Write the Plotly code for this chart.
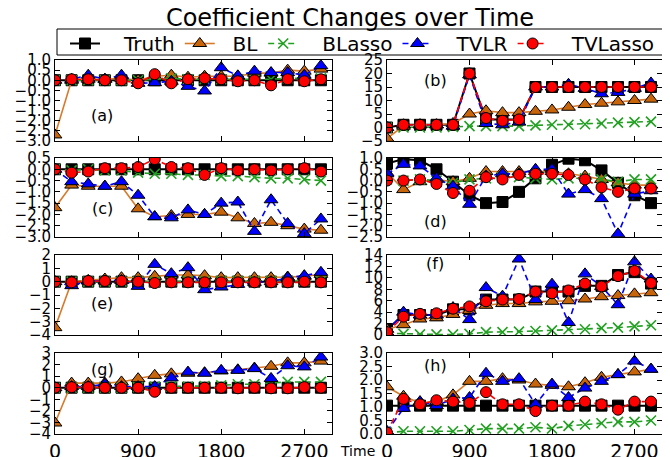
import plotly.graph_objects as go
from plotly.subplots import make_subplots

time = [0, 180, 360, 540, 720, 900, 1080, 1260, 1440, 1620, 1800, 1980, 2160, 2340, 2520, 2700, 2880]
x_ticks = [0, 900, 1800, 2700]

# (a)
truth_a = [0, 0, 0, 0, 0, 0, 0, 0, 0, 0, 0, 0, 0, 0, 0, 0, 0]
bl_a = [-2.7, 0.0, 0.05, 0.05, 0.1, 0.0, 0.2, 0.25, 0.15, 0.2, 0.2, 0.2, 0.35, 0.35, 0.5, 0.45, 0.55]
blasso_a = [0, 0, 0, 0, 0, 0, 0.05, 0.1, 0.05, 0.05, 0.05, 0.05, 0.05, 0.05, 0.1, 0.1, 0.1]
tvlr_a = [0, 0.05, 0.25, 0.05, 0.25, -0.15, -0.12, -0.05, -0.3, -0.53, 0.62, 0.22, 0.45, 0.38, 0.38, 0.25, 0.72]
tvlasso_a = [0, 0.05, 0.05, 0.0, 0.0, -0.15, 0.3, -0.15, 0.05, 0.1, 0.05, -0.05, 0.0, -0.25, 0.05, -0.05, 0.05]
# (b)
truth_b = [0, 1, 1, 1, 1, 20, 3, 3, 3, 15, 15, 15, 15, 15, 15, 15, 15]
bl_b = [-4, 0.5, 1, 1, 1.5, 5, 6.2, 5.5, 5.5, 6, 6.5, 7.5, 8.5, 9, 9.5, 10, 10.5]
blasso_b = [0, 0, 0, 0, 0.2, 0.5, 0.5, 0.5, 0.5, 0.8, 1, 1, 1.2, 1.5, 1.8, 2, 2.2]
tvlr_b = [0, 1, 1, 1, 0.5, 19.5, 1.5, 1, 2, 15, 15, 16, 14.5, 12.5, 13, 14.5, 16.5]
tvlasso_b = [0, 1, 1, 1, 1, 20, 3.5, 2.5, 3, 15, 15, 15, 15, 15, 15, 15, 15]
# (c)
truth_c = [0, 0, 0, 0, 0, 0, 0, 0, 0, 0, 0, 0, 0, 0, 0, 0, 0]
bl_c = [-1.7, -0.7, -0.75, -0.75, -0.75, -1.75, -2.1, -2.05, -2.0, -2.0, -1.9, -2.15, -2.4, -2.35, -2.5, -2.65, -2.7]
blasso_c = [0, -0.05, 0, -0.05, -0.05, -0.15, -0.2, -0.2, -0.25, -0.25, -0.3, -0.3, -0.35, -0.4, -0.4, -0.45, -0.5]
tvlr_c = [0, -0.55, -0.65, -0.75, -0.55, -1.15, -2.1, -2.15, -1.8, -2.0, -1.5, -1.45, -2.75, -1.35, -2.4, -2.85, -2.2]
tvlasso_c = [0, -0.15, -0.1, 0.05, 0.05, 0.1, 0.45, 0.1, 0.05, -0.25, 0.05, -0.05, 0.0, -0.05, 0.0, 0.05, -0.1]
# (d)
truth_d = [0.75, 0.95, 0.9, 0.5, -0.05, -0.65, -1.0, -0.95, -0.5, 0.1, 0.7, 0.97, 0.9, 0.45, -0.1, -0.65, -1.0]
bl_d = [0.35, -0.4, -0.05, 0.05, -0.05, 0.1, 0.4, 0.4, 0.4, 0.4, 0.4, 0.3, 0.2, 0.05, -0.1, -0.2, -0.2]
blasso_d = [0.05, 0.0, 0.05, 0.0, -0.1, 0.05, 0.1, 0.15, 0.15, 0.1, 0.05, 0.1, 0.1, 0.05, -0.05, 0.05, 0.05]
tvlr_d = [0.3, 0.72, 0.65, 0.1, -0.25, -1.05, 0.2, 0.3, 0.3, 0.5, 0.5, -0.6, -0.4, -0.8, -2.36, -0.6, -0.45]
tvlasso_d = [0.0, 0.0, 0.05, -0.15, -0.55, -0.45, 0.15, 0.05, 0.25, 0.3, 0.3, 0.25, 0.05, -0.3, -0.5, -0.35, -0.35]
# (e)
truth_e = [0, 0, 0, 0, 0, 0, 0, 0, 0, 0, 0, 0, 0, 0, 0, 0, 0]
bl_e = [-3.45, 0.0, 0.1, 0.2, 0.3, 0.3, 0.4, 0.5, 0.5, 0.45, 0.3, 0.3, 0.3, 0.3, 0.35, 0.4, 0.55]
blasso_e = [0, 0, 0, 0, 0, 0, 0, 0.05, 0.05, 0.05, 0.05, 0.05, 0.05, 0.05, 0.05, 0.05, 0.05]
tvlr_e = [0, -0.3, 0.05, 0.05, 0.1, -0.35, 1.3, 0.6, 1.05, -0.6, -0.4, -0.2, -0.05, 0.0, 0.3, 0.45, 0.7]
tvlasso_e = [0, -0.05, 0.05, 0.05, 0.05, 0, -0.1, -0.05, -0.05, -0.05, -0.05, -0.05, -0.05, -0.05, -0.05, 0, -0.05]
# (f)
truth_f = [1, 3.5, 3.5, 3.5, 4.5, 4.5, 6.2, 6.2, 6.2, 7.6, 7.6, 7.6, 8.6, 8.6, 10.5, 11, 9]
bl_f = [1, 1.8, 2.8, 3, 3.6, 4.3, 5.2, 5.5, 5.5, 5.8, 5.9, 6.0, 6.3, 6.7, 6.9, 7.2, 7.4]
blasso_f = [0.3, 0.2, 0.1, 0.1, 0.1, 0.2, 0.5, 0.5, 0.6, 0.7, 0.8, 1.0, 1.0, 1.2, 1.3, 1.5, 1.7]
tvlr_f = [0.5, 4.0, 3.5, 3.5, 4.8, 2.7, 8.3, 6.8, 13.3, 6.2, 8.9, 2.2, 10.7, 8.5, 5.3, 12.8, 9.8]
tvlasso_f = [0.5, 3.2, 3.7, 3.8, 4.6, 5.0, 5.9, 6.2, 6.3, 7.6, 7.3, 7.8, 9.0, 8.5, 10.3, 11.2, 9.1]
# (g)
truth_g = [0, 0, 0, 0, 0, 0, 0, 0, 0, 0, 0, 0, 0, 0, 0, 0, 0]
bl_g = [-3.05, 0.4, 0.4, 0.4, 0.5, 0.78, 1.07, 1.2, 1.25, 1.3, 1.45, 1.55, 1.7, 1.85, 2.15, 2.15, 2.3]
blasso_g = [0, 0, 0, 0, 0, 0.05, 0.1, 0.1, 0.1, 0.15, 0.2, 0.3, 0.3, 0.4, 0.5, 0.5, 0.5]
tvlr_g = [0, 0.1, 0.1, 0.3, 0.1, 0.1, 0.1, 0.85, 1.35, 1.25, 1.5, 1.5, 1.65, 0.8, 1.9, 1.8, 2.65]
tvlasso_g = [0, 0.05, 0.05, 0, 0, 0, -0.35, 0, 0, 0, 0, -0.05, 0, -0.05, -0.05, 0.05, 0]
# (h)
truth_h = [1.05, 1.05, 1.05, 1.05, 1.05, 1.05, 1.05, 1.05, 1.05, 1.05, 1.05, 1.05, 1.05, 1.05, 1.05, 1.05, 1.05]
bl_h = [1.75, 1.4, 1.15, 1.2, 1.45, 1.95, 1.95, 2.05, 2.0, 1.85, 1.8, 1.75, 1.9, 2.1, 2.2, 2.3, 2.4]
blasso_h = [0.05, 0.1, 0.1, 0.1, 0.1, 0.15, 0.2, 0.2, 0.2, 0.25, 0.2, 0.3, 0.35, 0.4, 0.45, 0.45, 0.5]
tvlr_h = [0.1, 0.95, 1.2, 1.05, 1.3, 1.35, 2.25, 1.95, 2.05, 1.1, 1.85, 1.35, 1.7, 1.95, 2.2, 2.7, 2.4]
tvlasso_h = [0.05, 1.3, 1.1, 1.25, 1.2, 1.15, 1.55, 1.1, 1.1, 0.85, 1.05, 1.05, 1.2, 1.1, 0.9, 1.2, 1.2]

panel_labels = ["(a)", "(b)", "(c)", "(d)", "(e)", "(f)", "(g)", "(h)"]
y_ranges = [[-3, 1], [-5, 25], [-3, 0.5], [-2.5, 1], [-4, 2], [0, 14], [-4, 3], [0, 3]]
y_tickvals = [
    [-3.0, -2.5, -2.0, -1.5, -1.0, -0.5, 0.0, 0.5, 1.0],
    [-5, 0, 5, 10, 15, 20, 25],
    [-3.0, -2.5, -2.0, -1.5, -1.0, -0.5, 0.0, 0.5],
    [-2.5, -2.0, -1.5, -1.0, -0.5, 0.0, 0.5, 1.0],
    [-4, -3, -2, -1, 0, 1, 2],
    [0, 2, 4, 6, 8, 10, 12, 14],
    [-4, -3, -2, -1, 0, 1, 2, 3],
    [0.0, 0.5, 1.0, 1.5, 2.0, 2.5, 3.0],
]
y_formats = [".1f", "d", ".1f", ".1f", "d", "d", "d", ".1f"]
label_pos = [(0.17, 0.32), (0.175, 0.75), (0.17, 0.355), (0.175, 0.19),
             (0.17, 0.39), (0.175, 0.90), (0.17, 0.80), (0.175, 0.85)]

panels = [
    (truth_a, bl_a, blasso_a, tvlr_a, tvlasso_a),
    (truth_b, bl_b, blasso_b, tvlr_b, tvlasso_b),
    (truth_c, bl_c, blasso_c, tvlr_c, tvlasso_c),
    (truth_d, bl_d, blasso_d, tvlr_d, tvlasso_d),
    (truth_e, bl_e, blasso_e, tvlr_e, tvlasso_e),
    (truth_f, bl_f, blasso_f, tvlr_f, tvlasso_f),
    (truth_g, bl_g, blasso_g, tvlr_g, tvlasso_g),
    (truth_h, bl_h, blasso_h, tvlr_h, tvlasso_h),
]

NB = "\u00a0"
series_names = ["Truth", "BL", "BLasso", "TVLR", "TVLasso"]
legend_names = [NB * 3 + "Truth", NB * 2 + "BL", NB * 3 + "BLasso", NB * 3 + "TVLR", NB * 3 + "TVLasso" + NB]
styles = [
    dict(line=dict(color="black", width=2, dash="solid"),
         marker=dict(symbol="square", size=11, color="black", line=dict(color="black", width=1))),
    dict(line=dict(color="#d97a2b", width=1.6, dash="solid"),
         marker=dict(symbol="triangle-up", size=12, color="#c8650a", line=dict(color="black", width=1))),
    dict(line=dict(color="#22a022", width=1.6, dash="6px,4px"),
         marker=dict(symbol="x-thin", size=10, color="#22a022", line=dict(color="#22a022", width=1.6))),
    dict(line=dict(color="#0000ff", width=1.6, dash="6px,4px"),
         marker=dict(symbol="triangle-up", size=12, color="#0000ff", line=dict(color="black", width=1))),
    dict(line=dict(color="#ff0000", width=1.6, dash="6px,4px"),
         marker=dict(symbol="circle", size=11, color="#ff0000", line=dict(color="black", width=1))),
]

# The page body adds an 8px margin, so the figure is 662x449 and positions are offset by 8px.
W, H, OFF = 662, 449, 8


def px(x):
    return (x - OFF) / W


def py(y):
    return 1 - (y - OFF) / H


fig = make_subplots(rows=4, cols=2)

left_dom = [px(55), px(332)]
right_dom = [px(387), px(662)]
row_doms = [[py(141), py(60)], [py(237), py(158)], [py(335), py(255)], [py(434), py(353)]]

FONT = "DejaVu Sans"

for p, data in enumerate(panels):
    row = p // 2 + 1
    col = p % 2 + 1
    for s, vals in enumerate(data):
        st = styles[s]
        fig.add_trace(go.Scatter(
            x=time, y=vals, mode="lines+markers", name=legend_names[s],
            legendgroup=series_names[s], showlegend=(p == 0),
            line=st["line"], marker=st["marker"]), row=row, col=col)
    idx = p + 1
    xa = "xaxis" if idx == 1 else f"xaxis{idx}"
    ya = "yaxis" if idx == 1 else f"yaxis{idx}"
    fig.layout[xa].update(
        domain=left_dom if col == 1 else right_dom, automargin=False,
        range=[0, 3000], tickvals=x_ticks, ticks="inside", ticklen=5,
        showticklabels=(row == 4), tickfont=dict(size=19, family=FONT, color="black"),
        showline=True, linecolor="black", linewidth=1, mirror="allticks",
        showgrid=False, zeroline=False, tickcolor="black")
    fig.layout[ya].update(
        domain=row_doms[row - 1], range=y_ranges[p], tickvals=y_tickvals[p], automargin=False,
        tickformat=y_formats[p], ticks="inside", ticklen=5,
        tickfont=dict(size=15, family=FONT, color="black"),
        showline=True, linecolor="black", linewidth=1, mirror="allticks",
        showgrid=False, zeroline=False, tickcolor="black")
    xr = "x" if idx == 1 else f"x{idx}"
    yr = "y" if idx == 1 else f"y{idx}"
    fig.add_annotation(text=panel_labels[p], xref=f"{xr} domain", yref=f"{yr} domain",
                       x=label_pos[p][0], y=label_pos[p][1], xanchor="center", yanchor="middle",
                       showarrow=False, font=dict(size=16, family=FONT, color="black"))

fig.add_annotation(text="Time", xref="paper", yref="paper", x=px(357), y=py(451),
                   xanchor="center", yanchor="middle",
                   showarrow=False, font=dict(size=14, family=FONT, color="black"))

# legend frame
fig.add_shape(type="rect", xref="paper", yref="paper",
              x0=px(57), x1=px(663), y0=py(55), y1=py(29),
              line=dict(color="black", width=1), fillcolor="rgba(0,0,0,0)", layer="above")

fig.update_layout(
    width=W, height=H,
    margin=dict(l=0, r=0, t=0, b=0, autoexpand=False),
    paper_bgcolor="white", plot_bgcolor="white",
    font=dict(family=FONT, color="black"),
    title=dict(text="Coefficient Changes over Time", x=px(350), xanchor="center",
               y=py(18), yanchor="middle", font=dict(size=24, family=FONT, color="black")),
    legend=dict(orientation="h", x=px(65), xanchor="left", y=py(24), yanchor="top",
                borderwidth=0, bgcolor="rgba(0,0,0,0)",
                font=dict(size=20, family=FONT, color="black")),
)

fig.write_html("out.html")
